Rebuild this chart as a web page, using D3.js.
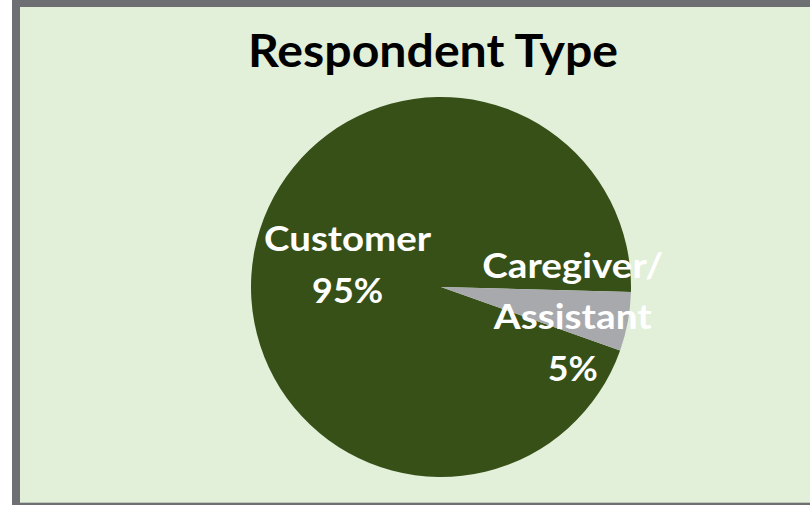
<!DOCTYPE html>
<html>
<head>
<meta charset="utf-8">
<script src="https://cdn.jsdelivr.net/npm/d3@7"></script>
<style>
  html, body { margin: 0; padding: 0; background: #ffffff; }
  svg { display: block; }
  text { font-family: Lato, "Open Sans", "DejaVu Sans", sans-serif; font-weight: bold; }
</style>
</head>
<body>
<svg id="chart" width="810" height="505"></svg>
<script>
// Respondent type breakdown (percent of respondents)
const categories = ["Customer", "Caregiver/\nAssistant"];
const values = [95, 5];
const sliceColors = ["#365018", "#a8a9ad"];
const title = "Respondent Type";

const W = 810, H = 505;
const svg = d3.select("#chart");

// Framed panel, partly running off the right edge
svg.append("rect")
  .attr("x", 16).attr("y", 3)
  .attr("width", 830).attr("height", 503.7)
  .attr("fill", "#e2efd9")
  .attr("stroke", "#6e6f72")
  .attr("stroke-width", 8);

svg.append("text")
  .attr("x", 433).attr("y", 67)
  .attr("text-anchor", "middle")
  .attr("font-size", 46)
  .attr("fill", "#000000")
  .attr("textLength", 370)
  .attr("lengthAdjust", "spacingAndGlyphs")
  .text(title);

const cx = 441, cy = 287, radius = 190;
const start = 109.5 * Math.PI / 180;

const pie = d3.pie().sort(null).value(d => d.value)
  .startAngle(start).endAngle(start + 2 * Math.PI);
const arcs = pie(categories.map((c, i) => ({ label: c, value: values[i], color: sliceColors[i] })));

const arc = d3.arc().innerRadius(0).outerRadius(radius);
const g = svg.append("g").attr("transform", `translate(${cx},${cy})`);

g.selectAll("path.slice")
  .data(arcs)
  .join("path")
  .attr("class", "slice")
  .attr("d", arc)
  .attr("fill", d => d.data.color);

// Label placement: radius of the label ring, nudges, and line widths
const labelLayout = [
  { r: 95, dx: 0, dy: -5, widths: [167, 71] },
  { r: 135, dx: -1, dy: 5, widths: [181, 158, 50] }
];
const fontSize = 35, lineH = 51.5, capH = 25;

arcs.forEach((d, i) => {
  const lay = labelLayout[i];
  const [px, py] = d3.arc().innerRadius(lay.r).outerRadius(lay.r).centroid(d);
  const lines = d.data.label.split("\n").concat([d.data.value + "%"]);
  const n = lines.length;
  const t = g.append("text")
    .attr("text-anchor", "middle")
    .attr("font-size", fontSize)
    .attr("fill", "#ffffff");
  lines.forEach((ln, j) => {
    t.append("tspan")
      .attr("x", px + lay.dx)
      .attr("y", py + lay.dy + (j - (n - 1) / 2) * lineH + capH / 2)
      .attr("textLength", lay.widths[j])
      .attr("lengthAdjust", "spacingAndGlyphs")
      .text(ln);
  });
});
</script>
</body>
</html>
